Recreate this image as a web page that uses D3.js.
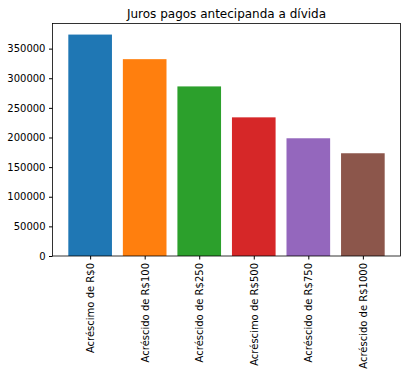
<!DOCTYPE html>
<html>
<head>
<meta charset="utf-8">
<script src="https://cdn.jsdelivr.net/npm/d3@7"></script>
<style>
  body { margin: 0; background: #fff; }
  svg text { font-family: "DejaVu Sans", sans-serif; fill: #000; }
</style>
</head>
<body>
<div id="chart"></div>
<script>
// bar categories and values
const categories = [
    "Acréscimo de R$0",
    "Acréscido de R$100",
    "Acréscido de R$250",
    "Acréscimo de R$500",
    "Acréscido de R$750",
    "Acréscido de R$1000"
];
const juros = [373700, 332200, 286200, 234000, 198700, 173400];
const yTicks = [0, 50000, 100000, 150000, 200000, 250000, 300000, 350000];
const colors = ["#1f77b4", "#ff7f0e", "#2ca02c", "#d62728", "#9467bd", "#8c564b"];
const title = "Juros pagos antecipanda a dívida";

let margin = {top: 23.5, right: 7.5, bottom: 120, left: 52.5};
let width = 408 - margin.left - margin.right;
let height = 376 - margin.top - margin.bottom;

let svg = d3.select("#chart").append("svg")
    .attr("width", 408)
    .attr("height", 376);

let g = svg.append("g")
    .attr("transform", "translate(" + margin.left + "," + margin.top + ")");

// matplotlib style: bars 0.8 wide, 5% margins
let n = categories.length;
let xScale = d3.scaleLinear()
    .domain([-0.4 - 0.058 * (n - 0.2) / 1.16, n - 0.6 + 0.058 * (n - 0.2) / 1.16])
    .range([0, width]);

let yMax = d3.max(juros) * 1.05;
let yScale = d3.scaleLinear()
    .domain([0, yMax])
    .range([height, 0]);

g.selectAll("rect.bar")
    .data(juros)
    .join("rect")
    .attr("class", "bar")
    .attr("x", (d, i) => xScale(i - 0.4))
    .attr("width", (d, i) => xScale(i + 0.4) - xScale(i - 0.4))
    .attr("y", d => yScale(d))
    .attr("height", d => height - yScale(d))
    .style("fill", (d, i) => colors[i]);

// y axis
let yAxis = g.append("g")
    .call(d3.axisLeft(yScale).tickValues(yTicks).tickSize(3.5).tickPadding(3.5).tickFormat(d3.format("d")));
yAxis.select(".domain").remove();
yAxis.selectAll("text").style("font-size", "10px");

// x axis
let xAxis = g.append("g")
    .attr("transform", "translate(0," + height + ")")
    .call(d3.axisBottom(xScale).tickValues(d3.range(n)).tickSize(3.5).tickFormat(i => categories[i]));
xAxis.select(".domain").remove();
xAxis.selectAll("text")
    .style("font-size", "10px")
    .attr("transform", "rotate(-90)")
    .attr("x", -7)
    .attr("y", 0)
    .attr("dy", "0.35em")
    .style("text-anchor", "end");

// frame
g.append("rect")
    .attr("width", width)
    .attr("height", height)
    .style("fill", "none")
    .style("stroke", "#000")
    .style("stroke-width", 0.8);

svg.append("text")
    .attr("x", margin.left + width / 2)
    .attr("y", margin.top - 6)
    .attr("text-anchor", "middle")
    .style("font-size", "12px")
    .text(title);
</script>
</body>
</html>
